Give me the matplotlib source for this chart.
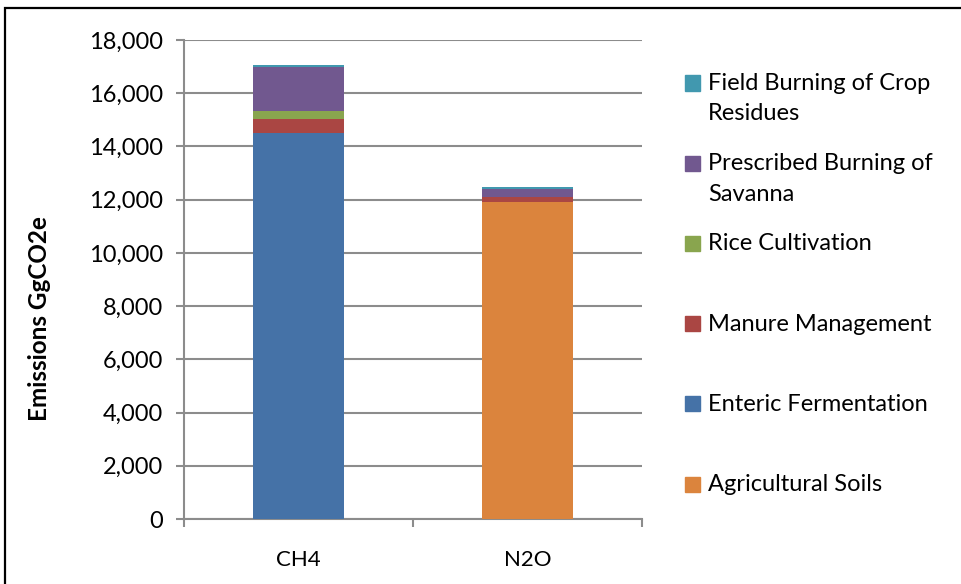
import matplotlib
matplotlib.use("Agg")
import matplotlib.pyplot as plt
from matplotlib.patches import Rectangle
from matplotlib.ticker import FuncFormatter, MultipleLocator

plt.rcParams['font.family'] = ['Lato', 'DejaVu Sans']

# data (GgCO2e), bottom to top of stack
gases = ['CH4', 'N2O']
sources = ['Agricultural Soils', 'Enteric Fermentation', 'Manure Management',
           'Rice Cultivation', 'Prescribed Burning of\nSavanna',
           'Field Burning of Crop\nResidues']
values = {
    'Agricultural Soils': [0, 11900],
    'Enteric Fermentation': [14500, 0],
    'Manure Management': [530, 210],
    'Rice Cultivation': [310, 0],
    'Prescribed Burning of\nSavanna': [1640, 290],
    'Field Burning of Crop\nResidues': [75, 90],
}
colors = ['#DB843D', '#4572A7', '#AA4643', '#89A54E', '#71588F', '#4198AF']

W, H = 961, 584
fig = plt.figure(figsize=(W / 100, H / 100), dpi=100)

def fx(px):
    return px / W

def fy(py):
    return 1 - py / H

ax = fig.add_axes([fx(184), fy(519), fx(642) - fx(184), fy(40) - fy(519)])

x = range(len(gases))
bottom = [0, 0]
for src, col in zip(sources, colors):
    v = values[src]
    ax.bar(x, v, bottom=bottom, width=0.4, color=col, zorder=3)
    bottom = [b + a for b, a in zip(bottom, v)]

grid_col = '#8C8C8C'
ax.set_xlim(-0.5, 1.5)
ax.set_ylim(0, 18000)
ax.yaxis.set_major_locator(MultipleLocator(2000))
ax.yaxis.set_major_formatter(FuncFormatter(lambda v, p: f'{int(v):,}'))
ax.grid(axis='y', color=grid_col, linewidth=1.5, zorder=0)
ax.set_xticks([-0.5, 0.5, 1.5])
ax.set_xticklabels([])
ax.set_xticks([0, 1], minor=True)
ax.set_xticklabels(gases, minor=True)
ax.tick_params(axis='x', which='major', length=6, color=grid_col, width=1.5)
ax.tick_params(axis='x', which='minor', length=0, labelsize=16, pad=22)
ax.tick_params(axis='y', length=6, color=grid_col, width=1.5, labelsize=17, pad=9)
for s in ['top', 'right']:
    ax.spines[s].set_visible(False)
for s in ['left', 'bottom']:
    ax.spines[s].set_color(grid_col)
    ax.spines[s].set_linewidth(1.5)

fig.text(fx(40), fy(319), 'Emissions GgCO2e', rotation=90, fontsize=17.5,
         fontweight='bold', ha='center', va='center')

# legend, top entry first
for i, (src, col) in enumerate(zip(sources[::-1], colors[::-1])):
    yc = 83 + i * 80.2
    fig.patches.append(Rectangle((fx(685), fy(yc + 7.5)), fx(15), 15 / H,
                                 transform=fig.transFigure, color=col))
    fig.text(fx(708), fy(yc - 10), src, fontsize=17, ha='left', va='top',
             linespacing=1.55)

# frame around the chart
fig.patches.append(Rectangle((fx(5), fy(H + 20)), 1.2, (H + 12) / H,
                             transform=fig.transFigure, fill=False,
                             edgecolor='black', linewidth=1.6))

fig.savefig('out.png', dpi=100)
